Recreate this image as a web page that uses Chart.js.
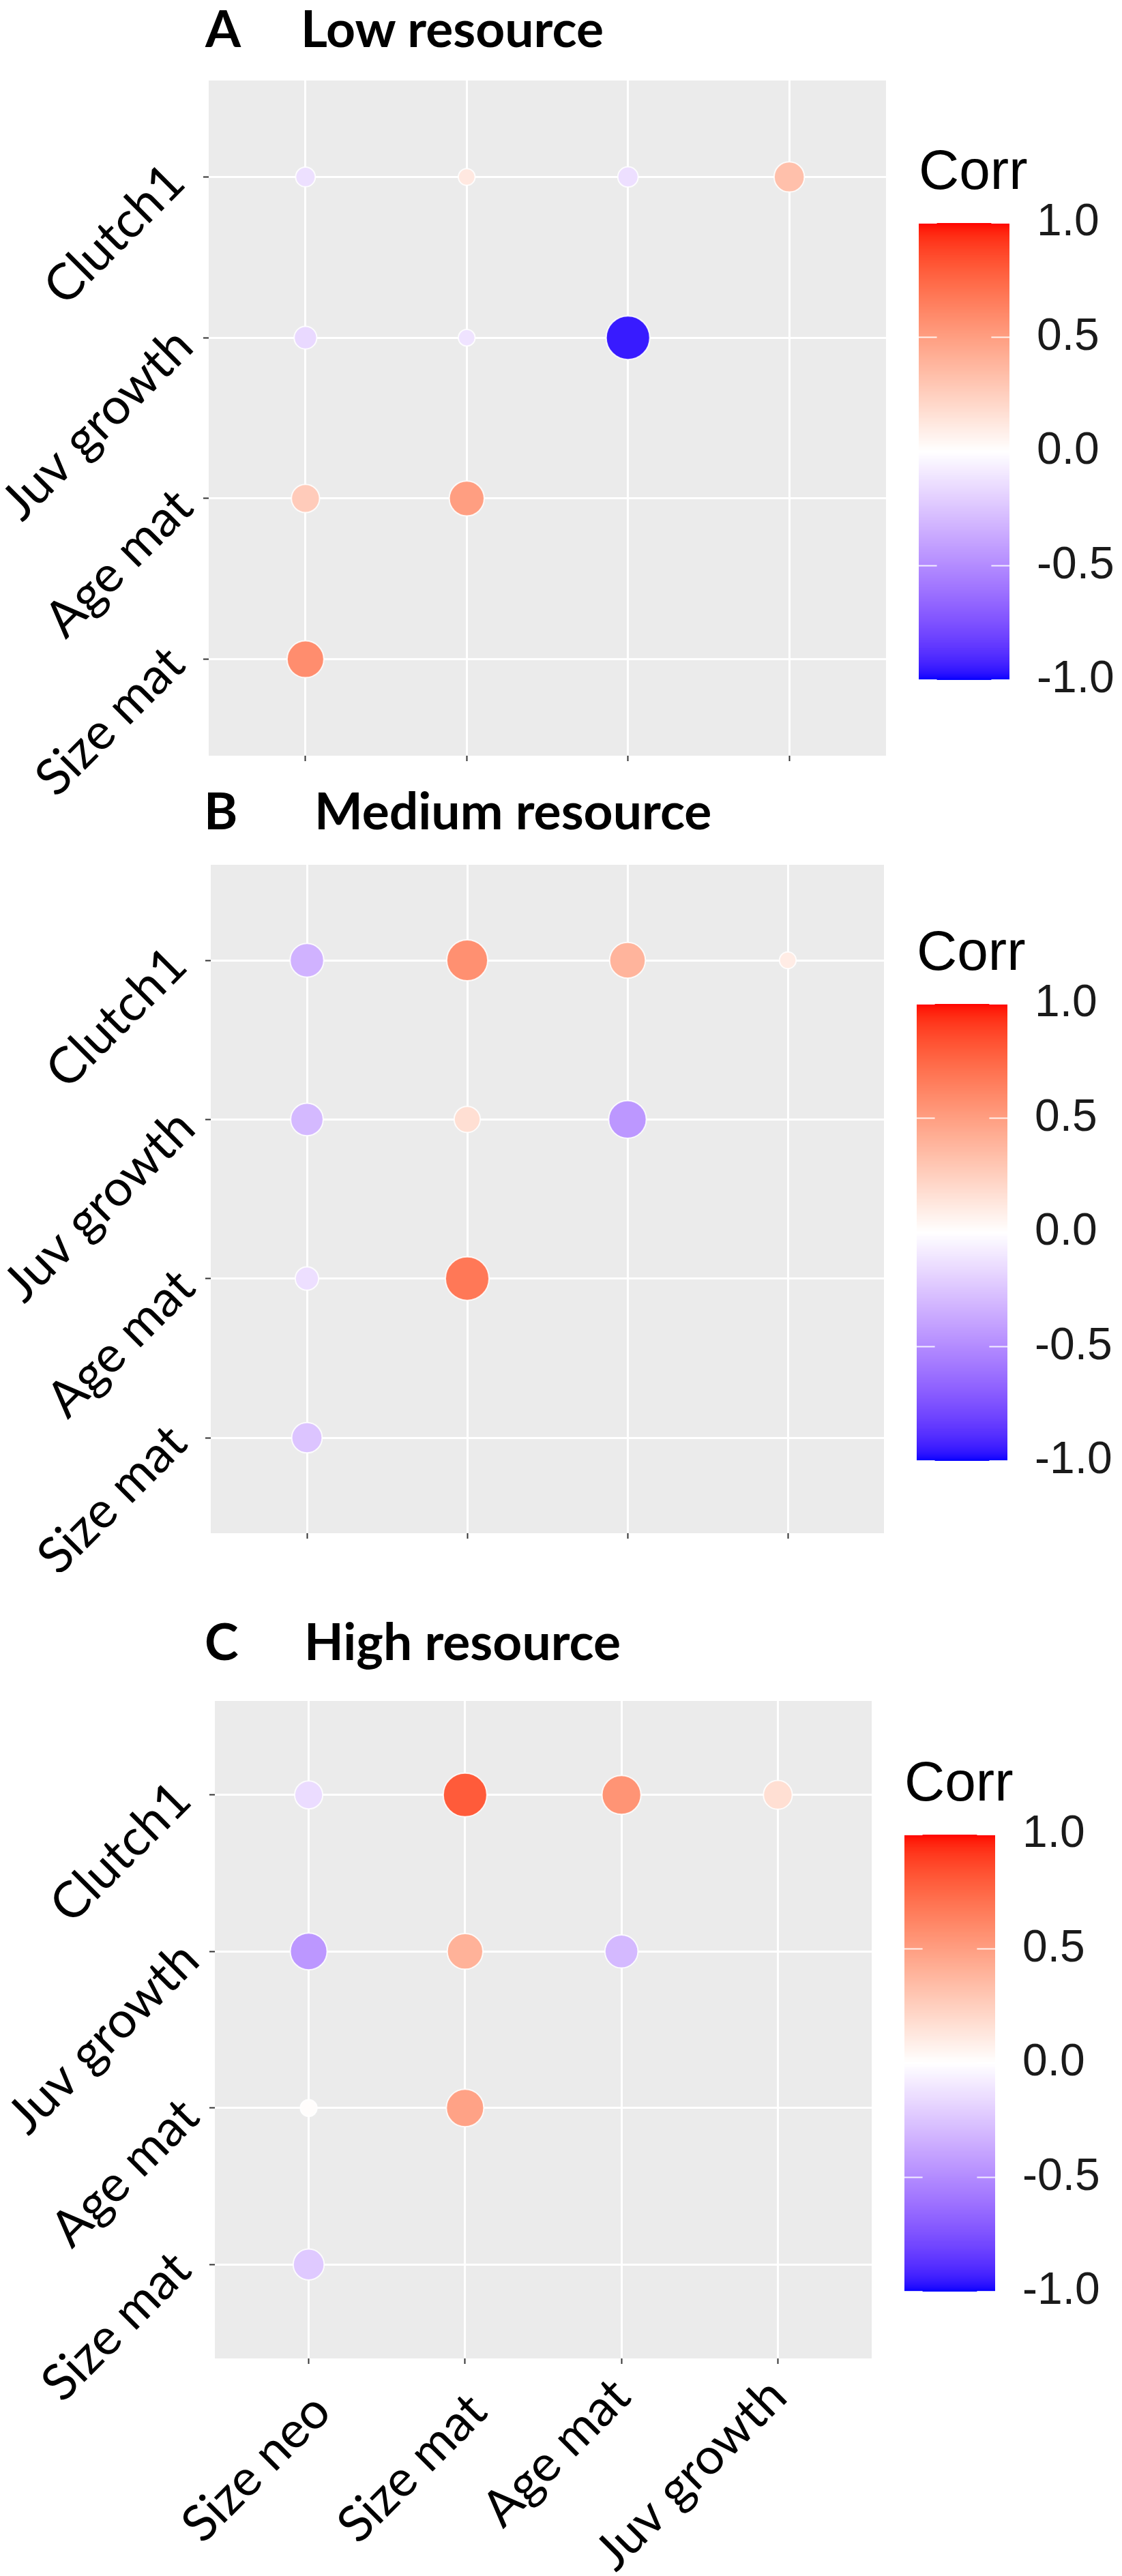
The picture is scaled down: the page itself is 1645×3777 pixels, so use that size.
<!DOCTYPE html>
<html>
<head>
<meta charset="utf-8">
<script src="https://cdn.jsdelivr.net/npm/chart.js@4.4.1/dist/chart.umd.min.js"></script>
<style>
    html, body { margin: 0; padding: 0; background: #fff; }
    body { position: relative; width: 1645px; height: 3777px; overflow: hidden; }
    canvas { position: absolute; left: 0; }
    .titulo { position: absolute; font-family: Lato, sans-serif; font-weight: bold; font-size: 75px; line-height: 75px; color: #000; white-space: nowrap; }
</style>
</head>
<body>
<div class="titulo" style="left:301px; top:3px">A</div>
<div class="titulo" style="left:441px; top:3px">Low resource</div>
<div class="titulo" style="left:299px; top:1150px">B</div>
<div class="titulo" style="left:461px; top:1150px">Medium resource</div>
<div class="titulo" style="left:300px; top:2368px">C</div>
<div class="titulo" style="left:446px; top:2368px">High resource</div>

<canvas id="graficoBajo" width="1645" height="1165" style="top:0px"></canvas>
<canvas id="graficoMedio" width="1645" height="1165" style="top:1140px"></canvas>
<canvas id="graficoAlto" width="1645" height="1317" style="top:2460px"></canvas>

<script>
// Variables (matriz triangular inferior)
const xCats = ['Size neo', 'Size mat', 'Age mat', 'Juv growth'];
const yCats = ['Size mat', 'Age mat', 'Juv growth', 'Clutch1'];

// fila i = yCats[i], columnas xCats[0..i]
const lowCorr = [
    [0.58],
    [0.27, 0.50],
    [-0.16, -0.12, -0.95],
    [-0.13, 0.12, -0.135, 0.33]
];
const mediumCorr = [
    [-0.25],
    [-0.135, 0.68],
    [-0.30, 0.17, -0.45],
    [-0.33, 0.57, 0.39, 0.10]
];
const highCorr = [
    [-0.23],
    [0.01, 0.48],
    [-0.45, 0.40, -0.30],
    [-0.15, 0.80, 0.55, 0.17]
];
const legendTicks = [1.0, 0.5, 0.0, -0.5, -1.0];

// Escala de color azul - blanco - rojo interpolada en Lab
function lin(c) { c /= 255; return c <= 0.04045 ? c / 12.92 : Math.pow((c + 0.055) / 1.055, 2.4); }
function rgbToLab(rgb) {
    const [r, g, b] = rgb.map(lin);
    const X = (0.4124 * r + 0.3576 * g + 0.1805 * b) / 0.95047;
    const Y = 0.2126 * r + 0.7152 * g + 0.0722 * b;
    const Z = (0.0193 * r + 0.1192 * g + 0.9505 * b) / 1.08883;
    const f = t => t > 0.008856 ? Math.cbrt(t) : 7.787 * t + 16 / 116;
    return [116 * f(Y) - 16, 500 * (f(X) - f(Y)), 200 * (f(Y) - f(Z))];
}
function labToRgb(lab) {
    const fy = (lab[0] + 16) / 116, fx = fy + lab[1] / 500, fz = fy - lab[2] / 200;
    const inv = t => t * t * t > 0.008856 ? t * t * t : (t - 16 / 116) / 7.787;
    const X = 0.95047 * inv(fx), Y = inv(fy), Z = 1.08883 * inv(fz);
    const rl = 3.2406 * X - 1.5372 * Y - 0.4986 * Z;
    const gl = -0.9689 * X + 1.8758 * Y + 0.0415 * Z;
    const bl = 0.0557 * X - 0.2040 * Y + 1.0570 * Z;
    const gam = c => {
        c = c <= 0.0031308 ? 12.92 * c : 1.055 * Math.pow(c, 1 / 2.4) - 0.055;
        return Math.round(Math.max(0, Math.min(1, c)) * 255);
    };
    return [gam(rl), gam(gl), gam(bl)];
}
const labAzul = rgbToLab([0, 0, 255]);
const labBlanco = rgbToLab([255, 255, 255]);
const labRojo = rgbToLab([255, 0, 0]);
function colorCorr(v) {
    const fin = v < 0 ? labAzul : labRojo;
    const t = Math.min(1, Math.abs(v));
    const c = labToRgb(labBlanco.map((l, k) => l + (fin[k] - l) * t));
    return 'rgb(' + c.join(',') + ')';
}

// Fondo gris del panel
const fondo = {
    id: 'fondo',
    beforeDraw(chart) {
        const { ctx, chartArea: a } = chart;
        ctx.save();
        ctx.fillStyle = '#EBEBEB';
        ctx.fillRect(a.left, a.top, a.width, a.height);
        ctx.restore();
    }
};

// Etiquetas de los ejes giradas 45 grados, ancladas al final de la línea base
// (las que tienen letras con descendente quedan un poco más cerca del eje)
const etiquetas = {
    id: 'etiquetas',
    afterDraw(chart, args, opts) {
        const { ctx, chartArea: a, scales } = chart;
        const girado = (texto, x, y) => {
            ctx.save();
            ctx.translate(x, y);
            ctx.rotate(-Math.PI / 4);
            ctx.fillText(texto, 0, 0);
            ctx.restore();
        };
        const baja = texto => ctx.measureText(texto).actualBoundingBoxDescent > 3;
        ctx.save();
        ctx.font = '74px Lato, sans-serif';
        ctx.fillStyle = '#000';
        ctx.textAlign = 'right';
        ctx.textBaseline = 'alphabetic';
        scales.y.ticks.forEach(t => {
            const texto = yCats[t.value];
            const py = scales.y.getPixelForValue(t.value);
            if (baja(texto)) girado(texto, a.left - 19, py + 17);
            else girado(texto, a.left - 31, py + 12);
        });
        if (opts.showX) {
            scales.x.ticks.forEach(t => {
                const texto = xCats[t.value];
                const px = scales.x.getPixelForValue(t.value);
                if (baja(texto)) girado(texto, px + 17, a.bottom + 60);
                else girado(texto, px + 36, a.bottom + 82);
            });
        }
        ctx.restore();
    }
};

// Barra de color "Corr"
const leyenda = {
    id: 'leyenda',
    afterDraw(chart) {
        const { ctx, chartArea: a } = chart;
        const x0 = a.right + 48, w = 133, h = 670;
        const y0 = (a.top + a.bottom) / 2 - 286;
        ctx.save();
        const n = 300;
        for (let k = 0; k < n; k++) {
            ctx.fillStyle = colorCorr(1 - 2 * (k + 0.5) / n);
            ctx.fillRect(x0, y0 + k * h / n, w, Math.min(h / n + 1, h - k * h / n));
        }
        ctx.strokeStyle = 'rgba(255,255,255,0.85)';
        ctx.lineWidth = 2;
        ctx.fillStyle = '#1a1a1a';
        ctx.font = '66px "Liberation Sans", Arial, sans-serif';
        ctx.textBaseline = 'middle';
        ctx.textAlign = 'left';
        legendTicks.forEach(v => {
            const y = y0 + (1 - v) / 2 * h;
            ctx.beginPath();
            ctx.moveTo(x0, y); ctx.lineTo(x0 + w / 5, y);
            ctx.moveTo(x0 + w * 4 / 5, y); ctx.lineTo(x0 + w, y);
            ctx.stroke();
            ctx.fillText(v.toFixed(1), x0 + w + 40, y);
        });
        ctx.fillStyle = '#000';
        ctx.font = '82px "Liberation Sans", Arial, sans-serif';
        ctx.textBaseline = 'alphabetic';
        ctx.fillText('Corr', x0, y0 - 50);
        ctx.restore();
    }
};

function crearGrafico(id, corr, cfg) {
    const abs = corr.flat().map(Math.abs);
    const minA = Math.min(...abs), maxA = Math.max(...abs);
    const puntos = [];
    corr.forEach((fila, i) => fila.forEach((v, j) => {
        // tamaño por |corr| reescalado al panel (area)
        const d = 26.5 + 39.5 * Math.sqrt((Math.abs(v) - minA) / (maxA - minA));
        puntos.push({ x: j, y: i, r: d / 2 - 1, v: v });
    }));
    const rejilla = { color: '#FFFFFF', lineWidth: 3, drawTicks: true, tickLength: 8, tickColor: '#333333', tickWidth: 2 };
    const sinRelleno = s => { s.paddingTop = 0; s.paddingBottom = 0; s.paddingLeft = 0; s.paddingRight = 0; };
    new Chart(document.getElementById(id), {
        type: 'bubble',
        data: {
            datasets: [{
                data: puntos,
                backgroundColor: c => colorCorr(c.raw.v),
                borderColor: 'rgba(255,255,255,0.85)',
                borderWidth: 2,
                hoverRadius: 0
            }]
        },
        options: {
            responsive: false,
            animation: false,
            devicePixelRatio: 1,
            events: [],
            layout: { padding: { top: cfg.top, right: cfg.right, left: 0, bottom: 0 } },
            plugins: {
                legend: { display: false },
                tooltip: { enabled: false },
                etiquetas: { showX: cfg.showX }
            },
            scales: {
                x: {
                    type: 'linear', min: -0.6, max: 3.6,
                    afterBuildTicks: s => { s.ticks = xCats.map((_, i) => ({ value: i })); },
                    afterFit: s => { s.height = cfg.xHeight; sinRelleno(s); },
                    grid: rejilla,
                    border: { display: false },
                    ticks: { display: false }
                },
                y: {
                    type: 'linear', min: -0.6, max: 3.6,
                    afterBuildTicks: s => { s.ticks = yCats.map((_, i) => ({ value: i })); },
                    afterFit: s => { s.width = cfg.yWidth; sinRelleno(s); },
                    grid: rejilla,
                    border: { display: false },
                    ticks: { display: false }
                }
            }
        },
        plugins: [fondo, etiquetas, leyenda]
    });
}

crearGrafico('graficoBajo', lowCorr, { top: 118, right: 346, yWidth: 306, xHeight: 57, showX: false });
crearGrafico('graficoMedio', mediumCorr, { top: 128, right: 349, yWidth: 309, xHeight: 57, showX: false });
crearGrafico('graficoAlto', highCorr, { top: 32, right: 367, yWidth: 315, xHeight: 319, showX: true });
</script>
</body>
</html>
